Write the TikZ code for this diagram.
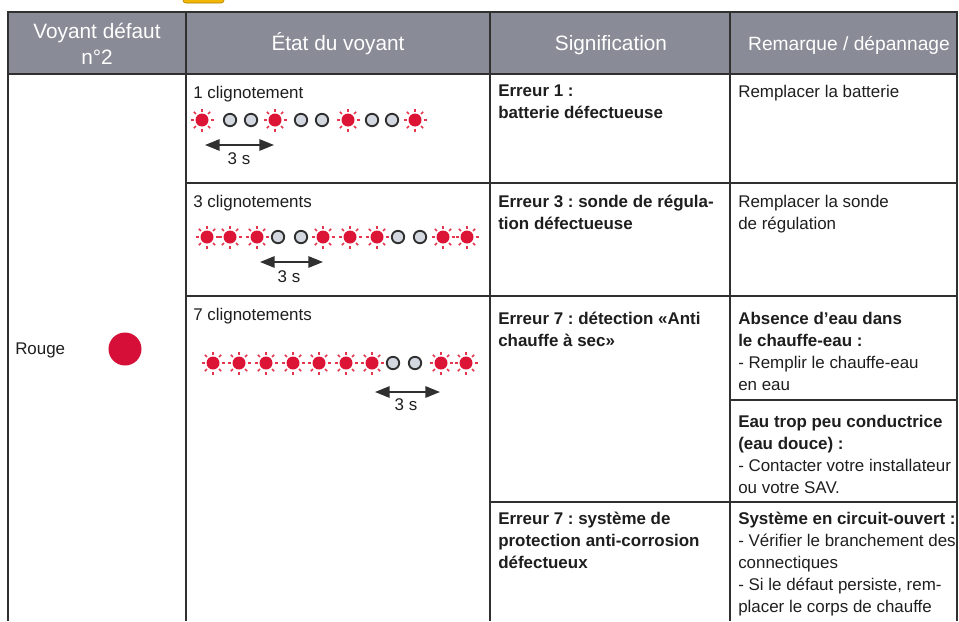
\documentclass[tikz,border=0pt]{standalone}
\usepackage{fontspec}
\setmainfont{Liberation Sans}
\usepackage{tikz}
\usetikzlibrary{arrows.meta}
\frenchspacing
\def\unit{0.75pt}

\definecolor{headgray}{HTML}{898B96}
\definecolor{rulegray}{HTML}{303030}
\definecolor{ledred}{HTML}{DC1435}
\definecolor{rayred}{HTML}{E5364F}
\definecolor{offfill}{HTML}{D3D8E0}
\definecolor{txt}{HTML}{1E1E1E}
\definecolor{dotred}{HTML}{D50F37}
\definecolor{tabyellow}{HTML}{F2B705}

\tikzset{
  cell/.style={anchor=north west, inner sep=0pt, align=left, text=txt,
    font=\fontsize{12.7}{16.5}\selectfont},
  bold/.style={font=\fontsize{12.7}{16.5}\selectfont\bfseries},
  lbl/.style={inner sep=0pt, text=txt, font=\fontsize{12.7}{15}\selectfont},
  head/.style={inner sep=0pt, align=center, text=white,
    font=\fontsize{15.6}{19.5}\selectfont},
  period/.style={{Triangle[length=11pt,width=8.5pt]}-{Triangle[length=11pt,width=8.5pt]},
    line width=1.5pt, draw=rulegray},
  ledon/.pic={
    \fill[ledred] (0,0) circle (6.5);
    \foreach \a in {0,45,...,315}
      \draw[rayred, line width=1.2pt] (\a:8.5) -- (\a:11.5);
  },
  ledoff/.pic={
    \filldraw[draw=rulegray, fill=offfill, line width=1.4pt] (0,0) circle (6.2);
  },
}

\begin{document}
\begin{tikzpicture}[x=\unit, y=-\unit]
  % \draw[gray!40] (0,0) grid[step=50] (959,621);
  \useasboundingbox (0,0) rectangle (959,621);
  \filldraw[rounded corners=2pt, draw=tabyellow!70!black, fill=tabyellow] (183,-8) rectangle (224,3);

  % header and rules
  \filldraw[draw=rulegray, fill=headgray, line width=1pt] (8,12) rectangle (957,74);
  \foreach \x in {8,186,490,730,957}
    \draw[rulegray, line width=1pt] (\x,12) -- (\x,621);
  \draw[rulegray, line width=1pt] (186,183) -- (957,183) (186,296) -- (957,296)
    (730,400) -- (957,400) (490,502) -- (957,502);

  \node[head, anchor=north] (hvoyant) at (97,22.5) {Voyant défaut\\n°2};
  \node[head, anchor=base] (hetat) at (338,50) {État du voyant};
  \node[head, anchor=base] (hsign) at (611,50) {Signification};
  \node[head, anchor=base, font=\fontsize{14.4}{17}\selectfont] (hrem) at (849,50) {Remarque / dépannage};

  % voyant
  \node[cell] (rouge) at (15,343) {Rouge};
  \node[circle, fill=dotred, inner sep=0pt, minimum size=24.75pt] (lamp) at (125,349) {};

  % 1 clignotement
  \node[cell] (etat1) at (193,86) {1 clignotement};
  \foreach \x in {202,275,348,415} \pic at (\x,120) {ledon};
  \foreach \x in {230,251,301,322,372,392} \pic at (\x,120) {ledoff};
  \coordinate (p1a) at (205,145);
  \coordinate (p1b) at (274,145);
  \draw[period] (p1a) -- (p1b);
  \node[lbl] (t1) at (239,159) {3 s};

  % 3 clignotements
  \node[cell] (etat3) at (193,195) {3 clignotements};
  \foreach \x in {207,230,257,323,350,377,443,467} \pic at (\x,237) {ledon};
  \foreach \x in {278,301,398,420} \pic at (\x,237) {ledoff};
  \coordinate (p3a) at (260,262);
  \coordinate (p3b) at (323,262);
  \draw[period] (p3a) -- (p3b);
  \node[lbl] (t3) at (289,277) {3 s};

  % 7 clignotements
  \node[cell] (etat7) at (193,308) {7 clignotements};
  \foreach \x in {213,239,266,293,319,346,372,441,466} \pic at (\x,363) {ledon};
  \foreach \x in {393,415} \pic at (\x,363) {ledoff};
  \coordinate (p7a) at (375,392);
  \coordinate (p7b) at (440,392);
  \draw[period] (p7a) -- (p7b);
  \node[lbl] (t7) at (406,405) {3 s};

  % signification
  \node[cell, bold] (sig1) at (498,85) {Erreur 1 :\\batterie défectueuse};
  \node[cell, bold] (sig3) at (498,195) {Erreur 3 : sonde de régula-\\tion défectueuse};
  \node[cell, bold] (sig7a) at (498,312) {Erreur 7 : détection «Anti\\chauffe à sec»};
  \node[cell, bold] (sig7b) at (498,512) {Erreur 7 : système de\\protection anti-corrosion\\défectueux};

  % remarque / depannage
  \node[cell] (rem1) at (738,85) {Remplacer la batterie};
  \node[cell] (rem3) at (738,195) {Remplacer la sonde\\de régulation};
  \node[cell] (rem7a) at (738,312) {\textbf{Absence d'eau dans}\\\textbf{le chauffe-eau :}\\- Remplir le chauffe-eau\\en eau};
  \node[cell] (rem7b) at (738,415) {\textbf{Eau trop peu conductrice}\\\textbf{(eau douce) :}\\- Contacter votre installateur\\ou votre SAV.};
  \node[cell] (rem7c) at (738,512) {\textbf{Système en circuit-ouvert :}\\- Vérifier le branchement des\\connectiques\\- Si le défaut persiste, rem-\\placer le corps de chauffe};
\end{tikzpicture}
\end{document}
